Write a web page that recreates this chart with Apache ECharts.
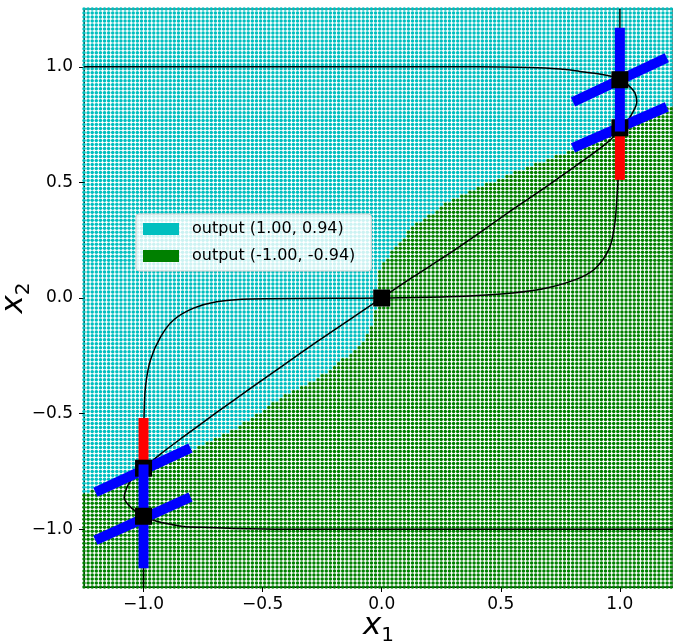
<!DOCTYPE html>
<html>
<head>
<meta charset="utf-8">
<script src="https://cdn.jsdelivr.net/npm/echarts@6/dist/echarts.min.js"></script>
<style>html,body{margin:0;padding:0;background:#fff}#c{width:673px;height:642px}</style>
</head>
<body>
<div id="c"></div>
<script>
// ---- data ----
const tickValues = [-1.0, -0.5, 0.0, 0.5, 1.0];
const legendNames = ['output (1.00, 0.94)', 'output (-1.00, -0.94)'];
// sampling grid of the classified plane
const gridMin = -1.25, gridMax = 1.25, gridCount = 146;
// decision boundary between the two output regions (green below)
const boundaryX = [-1.25, -1.059, -0.832, -0.622, -0.412, -0.273, -0.130, -0.063, -0.029, -0.017, -0.008, 0.046, 0.130, 0.273, 0.412, 0.550, 0.693, 0.832, 0.971, 1.113, 1.25];
const boundaryY = [-0.846, -0.766, -0.671, -0.571, -0.424, -0.355, -0.238, -0.169, -0.074, 0.0, 0.134, 0.208, 0.307, 0.411, 0.481, 0.541, 0.597, 0.654, 0.740, 0.792, 0.85];
// trajectories
const topCurve = [[-1.25, 1.0], [0.4, 1.0], [0.622, 0.997], [0.75, 0.99], [0.832, 0.98], [0.92, 0.968], [0.971, 0.957], [1.0, 0.944], [1.034, 0.922], [1.063, 0.887], [1.071, 0.848], [1.055, 0.805], [1.029, 0.762], [1.0, 0.736]];
const diagCurve = [[1.0, 0.736], [0.958, 0.682], [0.832, 0.584], [0.693, 0.483], [0.55, 0.383], [0.412, 0.283], [0.273, 0.185], [0.13, 0.09], [0.0, 0.0], [-0.13, -0.09], [-0.273, -0.19], [-0.412, -0.29], [-0.55, -0.39], [-0.693, -0.495], [-0.832, -0.6], [-0.929, -0.675], [-1.0, -0.736]];
const midCurve = [[1.0, 0.736], [0.996, 0.6], [0.992, 0.511], [0.987, 0.424], [0.979, 0.325], [0.958, 0.221], [0.903, 0.134], [0.832, 0.087], [0.693, 0.043], [0.55, 0.022], [0.273, 0.005], [0.0, 0.0], [-0.55, -0.004], [-0.693, -0.016], [-0.79, -0.044], [-0.874, -0.095], [-0.929, -0.169], [-0.971, -0.268], [-0.992, -0.385], [-0.998, -0.515], [-1.0, -0.736]];
const bottomCurve = [[1.25, -1.0], [-0.4, -1.0], [-0.622, -0.997], [-0.75, -0.992], [-0.832, -0.988], [-0.92, -0.972], [-0.958, -0.961], [-1.0, -0.944], [-1.034, -0.922], [-1.063, -0.895], [-1.081, -0.865], [-1.068, -0.815], [-1.04, -0.772], [-1.0, -0.736]];
const vertUp = [[1.0, 0.944], [1.0, 1.25]];
const vertDown = [[-1.0, -0.944], [-1.0, -1.25]];
// eigen-direction bars
const blueBarTop = [[1.0, 0.72], [1.0, 1.169]];
const redBarTop = [[1.0, 0.511], [1.0, 0.736]];
const blueBarBot = [[-1.0, -0.72], [-1.0, -1.169]];
const redBarBot = [[-1.0, -0.519], [-1.0, -0.736]];
const diagBarA = [[0.803, 0.848], [1.197, 1.039]];
const diagBarB = [[0.803, 0.649], [1.197, 0.827]];
const diagBarD = [[-1.202, -0.840], [-0.803, -0.649]];
const diagBarE = [[-1.202, -1.048], [-0.803, -0.861]];
// fixed points
const fixedUnder = [[1.0, 0.736], [-1.0, -0.736]];
const fixedOver = [[1.0, 0.944], [0.0, 0.0], [-1.0, -0.944]];

// ---- build the classified sample grid ----
function boundaryAt(x) {
  if (x <= boundaryX[0]) return boundaryY[0];
  for (let i = 1; i < boundaryX.length; i++) {
    if (x <= boundaryX[i]) {
      const t = (x - boundaryX[i - 1]) / (boundaryX[i] - boundaryX[i - 1]);
      return boundaryY[i - 1] + t * (boundaryY[i] - boundaryY[i - 1]);
    }
  }
  return boundaryY[boundaryY.length - 1];
}
const cyanPts = [], greenPts = [];
const step = (gridMax - gridMin) / (gridCount - 1);
for (let i = 0; i < gridCount; i++) {
  const x = gridMin + i * step;
  const b = boundaryAt(x);
  for (let j = 0; j < gridCount; j++) {
    const y = gridMin + j * step;
    (y < b ? greenPts : cyanPts).push([x, y]);
  }
}

const FONT = 'DejaVu Sans';
const fmt = v => (Math.abs(v) < 1e-9 ? '0.0' : v.toFixed(1).replace('-', '\u2212'));

function lineSeries(data, color, width, z, smooth) {
  return { type: 'line', data, showSymbol: false, symbol: 'none', silent: true, z, smooth: smooth || false,
    lineStyle: { color, width, cap: 'butt', opacity: 1 }, animation: false };
}
const nameRich = {
  a: { fontFamily: FONT, fontSize: 31, fontStyle: 'italic', color: '#000', verticalAlign: 'bottom', padding: [0, 0, 5, 0] },
  b: { fontFamily: FONT, fontSize: 20, color: '#000', verticalAlign: 'bottom' }
};

const option = {
  animation: false,
  backgroundColor: '#fff',
  grid: { left: 84, top: 9, width: 589, height: 578, show: true, borderColor: '#000', borderWidth: 1,
    backgroundColor: '#fff', outerBoundsMode: 'none', containLabel: false },
  legend: {
    left: 136, top: 214, orient: 'vertical',
    data: [{ name: legendNames[0], icon: 'rect' }, { name: legendNames[1], icon: 'rect' }],
    itemWidth: 36, itemHeight: 12, itemGap: 11,
    padding: [7, 16, 7, 7],
    backgroundColor: 'rgba(255,255,255,0.8)', borderColor: '#cccccc', borderWidth: 1, borderRadius: 3,
    textStyle: { fontFamily: FONT, fontSize: 16, color: '#000', padding: [0, 0, 0, 8] }
  },
  xAxis: {
    type: 'value', min: -1.25, max: 1.223,
    name: '{a|x}{b|1}', nameLocation: 'middle', nameGap: 23, nameMoveOverlap: false,
    nameTextStyle: { rich: nameRich },
    axisLine: { show: true, onZero: false, lineStyle: { color: '#000', width: 1 } },
    axisTick: { show: true, customValues: tickValues, length: 5, lineStyle: { color: '#000' } },
    axisLabel: { customValues: tickValues, formatter: fmt, fontFamily: FONT, fontSize: 17, color: '#000', margin: 9 },
    splitLine: { show: false }
  },
  yAxis: {
    type: 'value', min: -1.25, max: 1.25,
    name: '{a|x}{b|2}', nameLocation: 'middle', nameGap: 50, nameRotate: 90, nameMoveOverlap: false,
    nameTextStyle: { rich: nameRich },
    axisLine: { show: true, onZero: false, lineStyle: { color: '#000', width: 1 } },
    axisTick: { show: true, customValues: tickValues, length: 5, lineStyle: { color: '#000' } },
    axisLabel: { customValues: tickValues, formatter: fmt, fontFamily: FONT, fontSize: 17, color: '#000', margin: 11 },
    splitLine: { show: false }
  },
  series: [
    { name: legendNames[0], type: 'scatter', data: cyanPts, symbolSize: 3.5, symbol: 'circle', z: 1,
      itemStyle: { color: '#00bfbf', opacity: 1 }, progressive: 0, silent: true, animation: false },
    { name: legendNames[1], type: 'scatter', data: greenPts, symbolSize: 3.5, symbol: 'circle', z: 1,
      itemStyle: { color: '#008000', opacity: 1 }, progressive: 0, silent: true, animation: false },
    lineSeries(topCurve, '#000', 1.5, 2, 0.3),
    lineSeries(diagCurve, '#000', 1.5, 2, 0.3),
    lineSeries(midCurve, '#000', 1.5, 2, 0.3),
    lineSeries(bottomCurve, '#000', 1.5, 2, 0.3),
    lineSeries(vertUp, '#000', 1.5, 2),
    lineSeries(vertDown, '#000', 1.5, 2),
    lineSeries(redBarTop, '#ff0000', 10, 3),
    lineSeries(redBarBot, '#ff0000', 10, 3),
    lineSeries(diagBarA, '#0000ff', 10, 3),
    lineSeries(diagBarB, '#0000ff', 10, 3),
    lineSeries(diagBarD, '#0000ff', 10, 3),
    lineSeries(diagBarE, '#0000ff', 10, 3),
    { type: 'scatter', data: fixedUnder, symbol: 'rect', symbolSize: 17, itemStyle: { color: '#000', opacity: 1 }, z: 4, silent: true },
    lineSeries(blueBarTop, '#0000ff', 10, 5),
    lineSeries(blueBarBot, '#0000ff', 10, 5),
    { type: 'scatter', data: fixedOver, symbol: 'rect', symbolSize: 17, itemStyle: { color: '#000', opacity: 1 }, z: 6, silent: true }
  ]
};
const chart = echarts.init(document.getElementById('c'), null, { renderer: 'canvas' });
chart.setOption(option);
</script>
</body>
</html>
